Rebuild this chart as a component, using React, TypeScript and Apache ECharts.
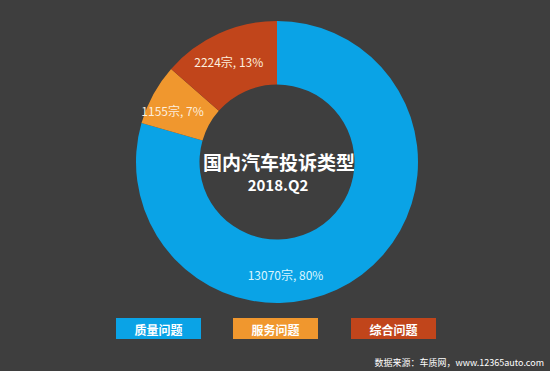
import React, { useEffect, useRef } from "react";
import * as echarts from "echarts";

const categories = ["质量问题", "服务问题", "综合问题"];
const counts = [13070, 1155, 2224];
const percents = [80, 7, 13];
const colors = ["#0aa3e6", "#f0972e", "#c1451b"];
const labelOffsets = [[-59, 23], [-6, 2], [-2, 2]];
const titleText = "国内汽车投诉类型";
const subTitleText = "2018.Q2";
const sourceText = "数据来源：车质网，www.12365auto.com";

const FONT = "'Noto Sans CJK SC', 'Noto Sans', sans-serif";
const BG = "#3e3e3e";

export default function App() {
  const ref = useRef<HTMLDivElement>(null);
  useEffect(() => {
    if (!ref.current) return;
    const chart = echarts.init(ref.current, null, { renderer: "svg" });
    const legendX = [116, 233, 351];
    const legendGraphics: any[] = [];
    categories.forEach((c, i) => {
      legendGraphics.push({
        type: "rect",
        shape: { x: legendX[i], y: 318, width: 85, height: 21 },
        style: { fill: colors[i] },
      });
      legendGraphics.push({
        type: "text",
        x: legendX[i] + 42.5,
        y: 329,
        style: {
          text: c,
          fill: "#ffffff",
          font: `bold 12px ${FONT}`,
          align: "center",
          verticalAlign: "middle",
        },
      });
    });
    chart.setOption({
      animation: false,
      backgroundColor: BG,
      graphic: [
        {
          type: "text",
          x: 279,
          y: 161,
          style: {
            text: titleText,
            fill: "#ffffff",
            font: `bold 19px ${FONT}`,
            align: "center",
            verticalAlign: "middle",
          },
        },
        {
          type: "text",
          x: 278,
          y: 184,
          style: {
            text: subTitleText,
            fill: "#ffffff",
            font: `bold 15px ${FONT}`,
            align: "center",
            verticalAlign: "middle",
          },
        },
        ...legendGraphics,
        {
          type: "text",
          x: 544,
          y: 362,
          style: {
            text: sourceText,
            fill: "#ffffff",
            font: `9px ${FONT}`,
            align: "right",
            verticalAlign: "middle",
          },
        },
      ],
      series: [
        {
          type: "pie",
          center: [277, 162],
          radius: [77.5, 141],
          startAngle: 90,
          clockwise: true,
          silent: true,
          data: categories.map((c, i) => ({
            name: c,
            value: counts[i],
            itemStyle: { color: colors[i] },
            label: {
              offset: labelOffsets[i],
              color: i === 0 ? "#d9f6ff" : "#fdeedd",
            },
          })),
          label: {
            show: true,
            position: "inside",
            fontFamily: FONT,
            fontSize: 12,
            formatter: (p: any) => `${p.value}宗, ${percents[p.dataIndex]}%`,
          },
          labelLine: { show: false },
        },
      ],
    });
    return () => chart.dispose();
  }, []);
  return (
    <div
      ref={ref}
      style={{ position: "fixed", left: 0, top: 0, width: 550, height: 371 }}
    />
  );
}
